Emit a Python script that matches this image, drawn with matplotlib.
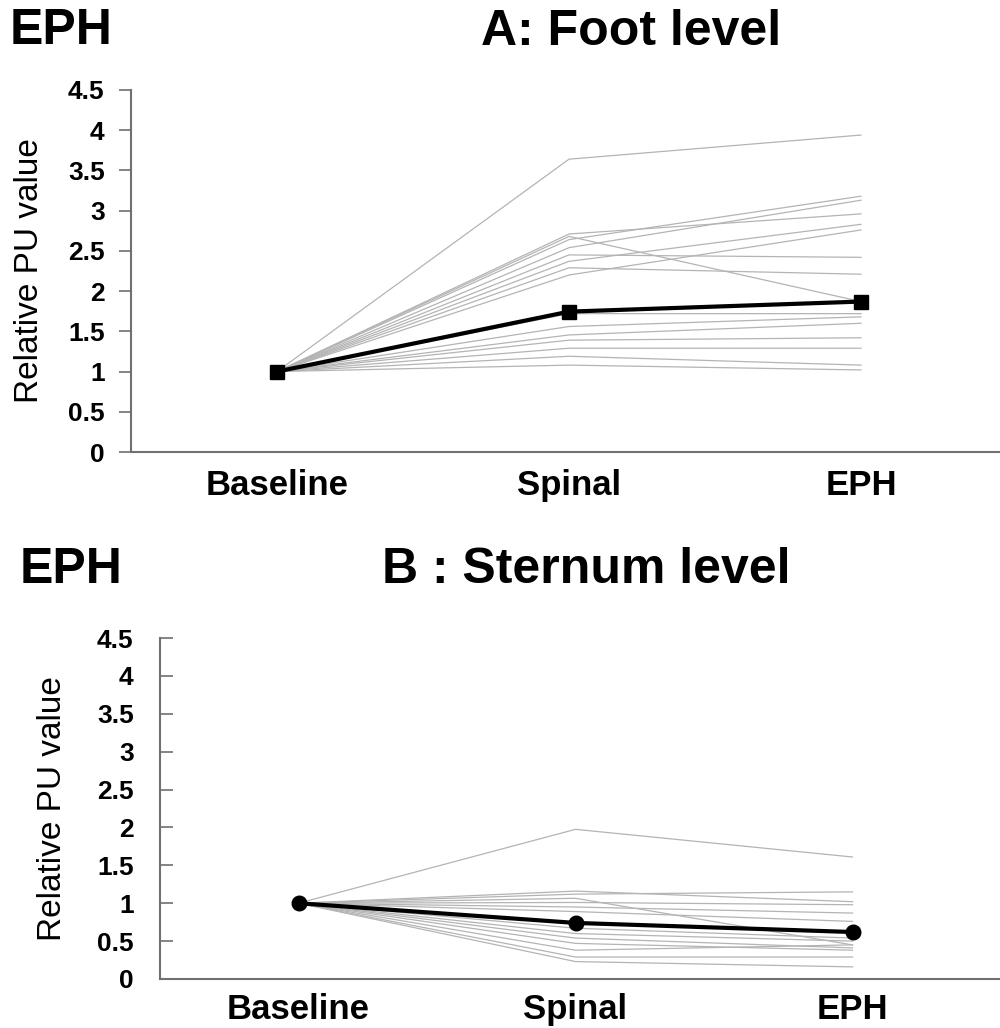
import matplotlib.pyplot as plt

plt.rcParams['font.family'] = ['Liberation Sans', 'DejaVu Sans']

# Time points
phases = ['Baseline', 'Spinal', 'EPH']

# A: foot level, relative PU value per subject (baseline = 1)
foot_spinal = [3.64, 2.71, 2.68, 2.64, 2.54, 2.45, 2.37, 2.29, 2.20,
               1.72, 1.56, 1.455, 1.39, 1.29, 1.19, 1.08]
foot_eph = [3.94, 2.96, 1.87, 3.18, 3.13, 2.42, 2.83, 2.21, 2.76,
            1.72, 1.68, 1.60, 1.42, 1.29, 1.08, 1.02]
foot_mean = [1.0, 1.745, 1.87]

# B: sternum level
sternum_spinal = [1.975, 1.16, 1.12, 1.065, 1.01, 0.95, 0.89,
                  0.67, 0.60, 0.54, 0.47, 0.38, 0.29, 0.23]
sternum_eph = [1.61, 1.02, 1.15, 0.45, 0.98, 0.87, 0.76,
               0.54, 0.50, 0.41, 0.38, 0.45, 0.29, 0.16]
sternum_mean = [1.0, 0.74, 0.62]

yticks = [0, 0.5, 1, 1.5, 2, 2.5, 3, 3.5, 4, 4.5]
ytick_labels = ['0', '0.5', '1', '1.5', '2', '2.5', '3', '3.5', '4', '4.5']

W, H = 1000, 1028
fig = plt.figure(figsize=(W / 100, H / 100), dpi=100)


def px_axes(left, top, right, bottom):
    return fig.add_axes([left / W, 1 - bottom / H, (right - left) / W, (bottom - top) / H])


def draw_panel(ax, spinal, eph, mean, marker, bin_px, width_px, tick_dir, tick_pad, xpad):
    x = range(len(phases))
    for s, e in zip(spinal, eph):
        ax.plot(x, [1.0, s, e], color='#b4b4b4', lw=0.9, zorder=2)
    ax.plot(x, mean, color='black', lw=3, marker=marker, ms=10.5, zorder=3)
    ax.set_xlim(-0.5, -0.5 + width_px / bin_px)
    ax.set_ylim(0, 4.5)
    ax.set_yticks(yticks)
    ax.set_yticklabels(ytick_labels, fontsize=19, fontweight='bold')
    ax.set_xticks(list(x))
    ax.set_xticklabels(phases, fontsize=25, fontweight='bold')
    ax.tick_params(axis='x', length=0, pad=xpad)
    ax.tick_params(axis='y', direction=tick_dir, length=9, width=1.2, color='#707070', pad=tick_pad)
    ax.set_ylabel('Relative PU value', fontsize=24)
    for side in ('top', 'right'):
        ax.spines[side].set_visible(False)
    for side in ('left', 'bottom'):
        ax.spines[side].set_color('#707070')
        ax.spines[side].set_linewidth(1.5)


# Foot level panel
ax1 = px_axes(131, 90, 1000, 452)
draw_panel(ax1, foot_spinal, foot_eph, foot_mean, 's', 292, 869, 'out', 10, 12)
ax1.yaxis.set_label_coords(-0.099, 0.5)

# Sternum level panel
ax2 = px_axes(160, 638, 1000, 979)
draw_panel(ax2, sternum_spinal, sternum_eph, sternum_mean, 'o', 277, 840, 'in', 19, 10)
ax2.yaxis.set_label_coords(-0.11, 0.5)

# Panel headings
fig.text(10 / W, 1 - 44 / H, 'EPH', fontsize=36, fontweight='bold', ha='left', va='baseline')
fig.text(631 / W, 1 - 45 / H, 'A: Foot level', fontsize=36, fontweight='bold', ha='center', va='baseline')
fig.text(20 / W, 1 - 583 / H, 'EPH', fontsize=36, fontweight='bold', ha='left', va='baseline')
fig.text(586 / W, 1 - 583 / H, 'B : Sternum level', fontsize=36, fontweight='bold', ha='center', va='baseline')

fig.savefig('out.png', dpi=100)
